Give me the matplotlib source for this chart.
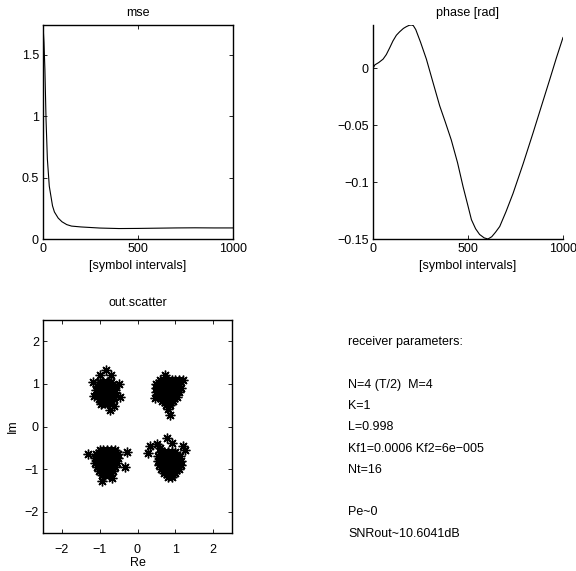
import numpy as np
import matplotlib
matplotlib.use("Agg")
import matplotlib.pyplot as plt

plt.rcParams['font.family'] = ['Liberation Sans', 'DejaVu Sans']
plt.rcParams['font.size'] = 9

# mse learning curve
mse_n = [0, 5, 10, 16, 23, 33, 50, 60, 80, 100, 125, 150, 200, 300, 400, 500, 600, 700, 800, 900, 1000]
mse_v = [1.74, 1.6, 1.38, 0.97, 0.65, 0.43, 0.27, 0.22, 0.17, 0.14, 0.117, 0.105, 0.098, 0.089,
         0.085, 0.086, 0.088, 0.090, 0.091, 0.090, 0.090]

# phase estimate
ph_n = [0, 10, 30, 53, 70, 88, 105, 123, 140, 160, 175, 190, 202, 212, 225, 250, 281, 315, 351,
        380, 412, 445, 474, 500, 518, 540, 561, 585, 605, 625, 645, 667, 700, 737, 790, 842,
        885, 930, 965, 1000]
ph_v = [0.0, 0.003, 0.005, 0.008, 0.012, 0.018, 0.024, 0.029, 0.032, 0.035, 0.0365, 0.0377,
        0.038, 0.0375, 0.034, 0.023, 0.008, -0.012, -0.033, -0.047, -0.063, -0.083, -0.104,
        -0.121, -0.133, -0.141, -0.146, -0.149, -0.150, -0.148, -0.144, -0.139, -0.126, -0.110,
        -0.084, -0.057, -0.034, -0.010, 0.009, 0.027]

# equalizer output, one list pair per quadrant
tl_re = [-1.0, -0.9, -0.8, -0.7,
         -1.08, -0.98, -0.88, -0.78, -0.68, -0.6,
         -1.1, -1.0, -0.9, -0.8, -0.7, -0.6,
         -1.08, -0.98, -0.88, -0.78, -0.68, -0.58,
         -1.02, -0.92, -0.82, -0.72, -0.62,
         -0.95, -0.85, -0.75,
         -0.83, -1.0, -0.7, -1.18, -0.5, -0.47, -0.62, -0.74, -0.97, -1.15]
tl_im = [1.05, 1.05, 1.05, 1.05,
         0.95, 0.95, 0.95, 0.95, 0.95, 0.95,
         0.85, 0.85, 0.85, 0.85, 0.85, 0.85,
         0.75, 0.75, 0.75, 0.75, 0.75, 0.75,
         0.65, 0.65, 0.65, 0.65, 0.65,
         0.55, 0.55, 0.55,
         1.33, 1.2, 1.2, 1.05, 1.0, 0.7, 0.48, 0.38, 0.52, 0.72]

tr_re = [0.6, 0.7, 0.8, 0.9, 1.0, 1.1,
         0.5, 0.6, 0.7, 0.8, 0.9, 1.0, 1.1,
         0.48, 0.58, 0.68, 0.78, 0.88, 0.98, 1.08, 1.15,
         0.5, 0.6, 0.7, 0.8, 0.9, 1.0, 1.1,
         0.55, 0.65, 0.75, 0.85, 0.95, 1.05,
         0.65, 0.75, 0.85, 0.95,
         0.75, 0.85,
         0.72, 0.45, 0.87, 0.8, 1.2]
tr_im = [1.1, 1.1, 1.1, 1.1, 1.1, 1.1,
         1.0, 1.0, 1.0, 1.0, 1.0, 1.0, 1.0,
         0.9, 0.9, 0.9, 0.9, 0.9, 0.9, 0.9, 0.9,
         0.8, 0.8, 0.8, 0.8, 0.8, 0.8, 0.8,
         0.7, 0.7, 0.7, 0.7, 0.7, 0.7,
         0.6, 0.6, 0.6, 0.6,
         0.5, 0.5,
         1.22, 0.68, 0.28, 0.42, 1.08]

bl_re = [-1.0, -0.9, -0.8, -0.7, -0.6,
         -1.1, -1.0, -0.9, -0.8, -0.7, -0.6, -0.52,
         -1.12, -1.02, -0.92, -0.82, -0.72, -0.62, -0.52,
         -1.12, -1.02, -0.92, -0.82, -0.72, -0.62, -0.55,
         -1.08, -0.98, -0.88, -0.78, -0.68, -0.6,
         -1.02, -0.92, -0.82, -0.72, -0.64,
         -0.95, -0.85, -0.75,
         -1.3, -0.29, -0.33, -0.95, -0.68]
bl_im = [-0.55, -0.55, -0.55, -0.55, -0.55,
         -0.65, -0.65, -0.65, -0.65, -0.65, -0.65, -0.65,
         -0.75, -0.75, -0.75, -0.75, -0.75, -0.75, -0.75,
         -0.85, -0.85, -0.85, -0.85, -0.85, -0.85, -0.85,
         -0.95, -0.95, -0.95, -0.95, -0.95, -0.95,
         -1.05, -1.05, -1.05, -1.05, -1.05,
         -1.15, -1.15, -1.15,
         -0.65, -0.61, -0.96, -1.28, -1.2]

br_re = [0.6, 0.7, 0.8, 0.9, 1.0,
         0.55, 0.65, 0.75, 0.85, 0.95, 1.05, 1.12,
         0.55, 0.65, 0.75, 0.85, 0.95, 1.05, 1.15,
         0.58, 0.68, 0.78, 0.88, 0.98, 1.08, 1.15,
         0.62, 0.72, 0.82, 0.92, 1.02, 1.1,
         0.7, 0.8, 0.9, 1.0,
         0.8, 0.9,
         0.33, 0.29, 0.51, 0.77, 0.9, 1.21, 1.25, 0.6]
br_im = [-0.6, -0.6, -0.6, -0.6, -0.6,
         -0.7, -0.7, -0.7, -0.7, -0.7, -0.7, -0.7,
         -0.8, -0.8, -0.8, -0.8, -0.8, -0.8, -0.8,
         -0.9, -0.9, -0.9, -0.9, -0.9, -0.9, -0.9,
         -1.0, -1.0, -1.0, -1.0, -1.0, -1.0,
         -1.1, -1.1, -1.1, -1.1,
         -1.18, -1.18,
         -0.46, -0.62, -0.42, -0.26, -0.38, -0.46, -0.55, -0.5]

params = ["receiver parameters:", "", "N=4 (T/2)  M=4", "K=1", "L=0.998",
          "Kf1=0.0006 Kf2=6e\u2212005", "Nt=16", "", "Pe~0", "SNRout~10.6041dB"]

W, H = 576, 571
fig = plt.figure(figsize=(W / 100, H / 100), dpi=100)


def box(l, t, r, b):
    # pixel box -> figure fraction
    return [l / W, 1 - b / H, (r - l) / W, (b - t) / H]


def style(ax, full=True, xpad=3):
    ax.tick_params(direction='in', length=3, width=0.6, labelsize=9, pad=3,
                   top=full, right=full)
    ax.tick_params(axis='x', pad=xpad)
    for s in ax.spines.values():
        s.set_linewidth(1.0)
    if not full:
        ax.spines['top'].set_visible(False)
        ax.spines['right'].set_visible(False)


ax1 = fig.add_axes(box(43, 25, 233, 239))
ax1.plot(mse_n, mse_v, color='black', lw=0.8)
ax1.set_xlim(0, 1000)
ax1.set_ylim(0, max(mse_v))
ax1.set_xticks([0, 500, 1000])
ax1.set_yticks([0, 0.5, 1, 1.5])
ax1.set_yticklabels(['0', '0.5', '1', '1.5'])
ax1.set_title('mse', fontsize=9, pad=6.5)
ax1.set_xlabel('[symbol intervals]', fontsize=9, labelpad=3.5)
style(ax1)

ax2 = fig.add_axes(box(373, 25, 563, 239))
ax2.plot(ph_n, ph_v, color='black', lw=0.8)
ax2.set_xlim(0, 1000)
ax2.set_ylim(min(ph_v), max(ph_v))
ax2.set_xticks([0, 500, 1000])
ax2.set_yticks([0, -0.05, -0.1, -0.15])
ax2.set_yticklabels(['0', '\u22120.05', '\u22120.1', '\u22120.15'])
ax2.set_title('phase [rad]', fontsize=9, pad=6.5)
ax2.set_xlabel('[symbol intervals]', fontsize=9, labelpad=3.5)
style(ax2, full=False)

ax3 = fig.add_axes(box(43, 320, 232, 533))
for re, im in [(tl_re, tl_im), (tr_re, tr_im), (bl_re, bl_im), (br_re, br_im)]:
    ax3.plot(re, im, linestyle='none', marker=(8, 2, 0), markersize=7,
             markeredgewidth=1.0, color='black')
ax3.set_xlim(-2.5, 2.5)
ax3.set_ylim(-2.5, 2.5)
ax3.set_xticks([-2, -1, 0, 1, 2])
ax3.set_yticks([-2, -1, 0, 1, 2])
ax3.set_xticklabels(['\u22122', '\u22121', '0', '1', '2'])
ax3.set_yticklabels(['\u22122', '\u22121', '0', '1', '2'])
ax3.set_title('out.scatter', fontsize=9, pad=10)
ax3.set_xlabel('Re', fontsize=9, labelpad=1)
ax3.set_ylabel('Im', fontsize=9, labelpad=4)
style(ax3, xpad=8)

for i, line in enumerate(params):
    fig.text(348 / W, 1 - (342 + i * 21.3) / H, line, fontsize=9, va='center', ha='left')

fig.savefig('out.png', dpi=100)
